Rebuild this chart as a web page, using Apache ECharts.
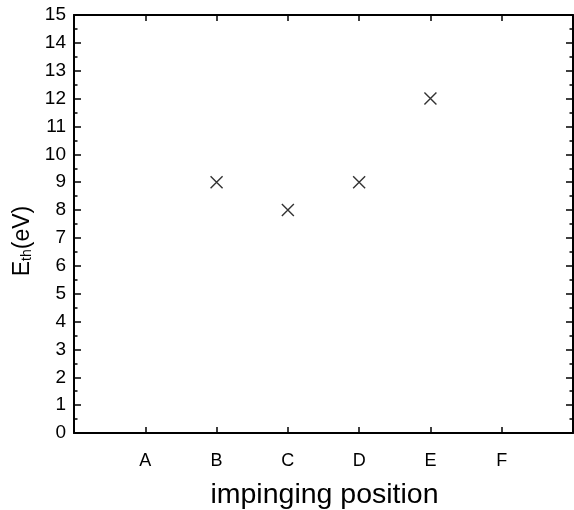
<!DOCTYPE html>
<html>
<head>
<meta charset="utf-8">
<script src="https://cdn.jsdelivr.net/npm/echarts@6/dist/echarts.min.js"></script>
<style>
  html, body { margin: 0; padding: 0; background: #fff; }
  #chart { width: 574px; height: 510px; }
</style>
</head>
<body>
<div id="chart"></div>
<script>
// impinging positions, plotted at 1..6 on the x scale
const positions = ['A', 'B', 'C', 'D', 'E', 'F'];
// threshold energy (eV), null where no point is drawn
const eth = [null, 9, 8, 9, 12, null];

const pointData = [];
positions.forEach((p, i) => {
  if (eth[i] != null) pointData.push([i + 1, eth[i]]);
});

const font = 'Liberation Sans, Arial, sans-serif';
const chart = echarts.init(document.getElementById('chart'));

const xBase = {
  type: 'value', min: 0, max: 7, interval: 1,
  splitLine: { show: false },
  axisLine: { show: true, onZero: false, lineStyle: { color: '#000', width: 2 } },
  axisTick: { show: true, inside: true, length: 6, lineStyle: { color: '#000', width: 1.5 } }
};
const yBase = {
  type: 'value', min: 0, max: 15, interval: 1,
  splitLine: { show: false },
  axisLine: { show: true, onZero: false, lineStyle: { color: '#000', width: 2 } },
  axisTick: { show: true, inside: true, length: 7, lineStyle: { color: '#000', width: 1.5 } },
  minorTick: { show: true, splitNumber: 2, length: 3.5, lineStyle: { color: '#000', width: 1.5 } }
};

chart.setOption({
  animation: false,
  grid: { left: 74, right: 1, top: 15, bottom: 77, outerBoundsMode: 'none', containLabel: false },
  xAxis: [
    Object.assign({}, xBase, {
      position: 'bottom',
      name: 'impinging position',
      nameLocation: 'middle',
      nameGap: 48,
      nameTextStyle: { fontFamily: font, fontSize: 28.5, color: '#000', padding: [0, 0, 0, 2] },
      axisLabel: {
        fontFamily: font, fontSize: 18, color: '#000', margin: 19,
        formatter: function (v) { return positions[v - 1] || ''; }
      }
    }),
    Object.assign({}, xBase, { position: 'top', axisLabel: { show: false } })
  ],
  yAxis: [
    Object.assign({}, yBase, {
      position: 'left',
      name: '{e|E}{s|th}{e|(eV)}',
      nameLocation: 'middle',
      nameGap: 40,
      nameTextStyle: {
        fontFamily: font, color: '#000', padding: [0, 34, 0, 0],
        rich: {
          e: { fontFamily: font, fontSize: 23, color: '#000' },
          s: { fontFamily: font, fontSize: 14, color: '#000', verticalAlign: 'bottom', padding: [9, 0, 0, 0] }
        }
      },
      axisLabel: { fontFamily: font, fontSize: 19, color: '#000', margin: 8 }
    }),
    Object.assign({}, yBase, { position: 'right', axisLabel: { show: false } })
  ],
  series: [{
    type: 'scatter',
    data: pointData,
    symbol: 'path://M0,0L10,10M10,0L0,10',
    symbolSize: 12,
    itemStyle: { color: 'none', borderColor: '#000', borderWidth: 1.4 }
  }]
});
</script>
</body>
</html>
